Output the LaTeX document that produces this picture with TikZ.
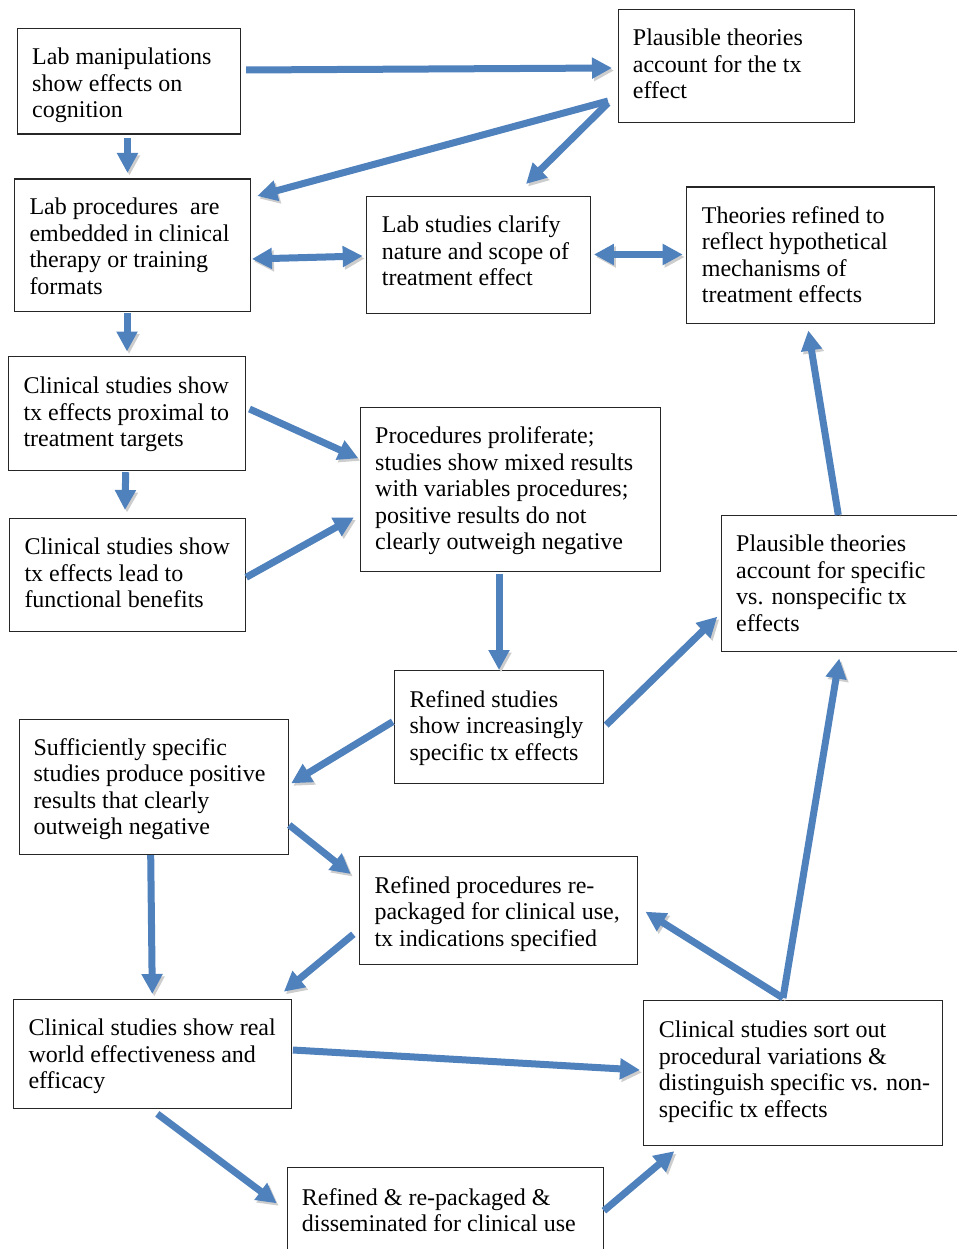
\documentclass[tikz,border=0pt]{standalone}
\usepackage{fontspec}
\setmainfont{Liberation Serif}
\usetikzlibrary{arrows.meta,calc}
\definecolor{arrowblue}{RGB}{79,129,189}
\definecolor{shadowgray}{RGB}{205,205,205}
\begin{document}
\begin{tikzpicture}[x=1pt,y=-1pt,
  box/.style={draw=black!85,line width=1.2pt,rectangle,inner sep=0pt,anchor=north west},
  txt/.style={anchor=north west,inner sep=0pt,align=left,font=\fontsize{24}{26.5}\selectfont},
  tip/.tip={Triangle[length=20pt 0 0,width=20pt 0 0]},
  conn/.style={line width=7pt,draw=arrowblue,-tip,
    preaction={draw=shadowgray,transform canvas={shift={(2pt,-2.5pt)}}}},
  dconn/.style={conn,tip-tip}]
\useasboundingbox (0,0) rectangle (957,1249);
\fill[white] (0,0) rectangle (957,1249);
% boxes
\node[box,minimum width=223pt,minimum height=105.5pt] (A) at (17,28) {};
\node[box,minimum width=236pt,minimum height=113pt] (B) at (617.5,9) {};
\node[box,minimum width=236pt,minimum height=132pt] (C) at (14,178.5) {};
\node[box,minimum width=223.5pt,minimum height=116.5pt] (D) at (366,196) {};
\node[box,minimum width=248pt,minimum height=136pt] (E) at (686,186.5) {};
\node[box,minimum width=236.5pt,minimum height=114pt] (F) at (8,356) {};
\node[box,minimum width=300pt,minimum height=164pt] (G) at (359.5,406.5) {};
\node[box,minimum width=236pt,minimum height=113.5pt] (H) at (9,517.5) {};
\node[box,minimum width=260pt,minimum height=136.5pt] (I) at (720.5,514.5) {};
\node[box,minimum width=209pt,minimum height=113.5pt] (J) at (394,669.5) {};
\node[box,minimum width=269.5pt,minimum height=135.5pt] (K) at (18.5,718.5) {};
\node[box,minimum width=278pt,minimum height=108.5pt] (L) at (358.5,855.5) {};
\node[box,minimum width=278pt,minimum height=109pt] (M) at (12.5,999) {};
\node[box,minimum width=299pt,minimum height=145.5pt] (N) at (643,999.5) {};
\node[box,minimum width=316pt,minimum height=100pt] (O) at (286.5,1167) {};
% texts
\node[txt] (At) at (32,48) {Lab manipulations\\show effects on\\cognition};
\node[txt] (Bt) at (632.7,29) {Plausible theories\\account for the tx\\effect};
\node[txt] (Ct) at (29.3,198) {Lab procedures\ \ are\\embedded in clinical\\therapy or training\\formats};
\node[txt] (Dt) at (381.7,215.7) {Lab studies clarify\\nature and scope of\\treatment effect};
\node[txt] (Et) at (701.7,206.3) {Theories refined to\\reflect hypothetical\\mechanisms of\\treatment effects};
\node[txt] (Ft) at (23.3,376.7) {Clinical studies show\\tx effects proximal to\\treatment targets};
\node[txt] (Gt) at (375,426.7) {Procedures proliferate;\\studies show mixed results\\with variables procedures;\\positive results do not\\clearly outweigh negative};
\node[txt] (Ht) at (24.3,538) {Clinical studies show\\tx effects lead to\\functional benefits};
\node[txt] (It) at (736,535) {Plausible theories\\account for specific\\vs. nonspecific tx\\effects};
\node[txt] (Jt) at (409.3,690) {Refined studies\\show increasingly\\specific tx effects};
\node[txt] (Kt) at (33.3,738.3) {Sufficiently specific\\studies produce positive\\results that clearly\\outweigh negative};
\node[txt] (Lt) at (374.3,876.3) {Refined procedures re-\\packaged for clinical use,\\tx indications specified};
\node[txt] (Mt) at (28.3,1019) {Clinical studies show real\\world effectiveness and\\efficacy};
\node[txt] (Nt) at (658.7,1020.7) {Clinical studies sort out\\procedural variations \&\\distinguish specific vs. non-\\specific tx effects};
\node[txt] (Ot) at (301.7,1188) {Refined \& re-packaged \&\\disseminated for clinical use};
% connectors
\draw[conn] ($(A.north east)+(5,42)$) -- ($(B.north west)+(-5.5,59)$);
\draw[conn] ($(B.north west)+(-9.5,92)$) -- ($(C.north east)+(6,17.5)$);
\draw[conn] ($(B.north west)+(-9.5,94)$) -- ($(D.north west)+(160,-12)$);
\draw[conn] ($(A.south west)+(110.5,3.5)$) -- ($(C.north west)+(113.5,-5.5)$);
\draw[dconn] ($(C.north east)+(0.7,80.5)$) -- ($(D.north west)+(-3.3,60)$);
\draw[dconn] ($(D.north east)+(3.2,58.5)$) -- ($(E.north west)+(-3.3,68)$);
\draw[conn] ($(C.south west)+(113,1.5)$) -- ($(F.north west)+(119,-4.5)$);
\draw[conn] ($(F.north east)+(3.8,53)$) -- ($(G.north west)+(-1.2,51.8)$);
\draw[conn] ($(F.south west)+(117.7,1)$) -- ($(H.north west)+(116,-7.5)$);
\draw[conn] ($(H.north east)+(0,59.8)$) -- ($(G.north west)+(-5.5,110.8)$);
\draw[conn] ($(G.south west)+(139.5,1.8)$) -- ($(J.north west)+(105,0.5)$);
\draw[conn] ($(J.north west)+(-1.3,52.2)$) -- ($(K.north east)+(2,64.8)$);
\draw[conn] ($(J.north east)+(2,55.5)$) -- ($(I.north west)+(-3.2,102.2)$);
\draw[conn] ($(I.north west)+(117.8,0.5)$) -- ($(E.south west)+(122.3,6.8)$);
\draw[conn] ($(K.north east)+(0,106.5)$) -- ($(L.north west)+(-7.8,18.5)$);
\draw[conn] ($(K.south west)+(132.2,0)$) -- ($(M.north west)+(139.8,-5)$);
\draw[conn] ($(L.north west)+(-5.2,78.8)$) -- ($(M.north east)+(-7.8,-7.3)$);
\draw[conn] ($(N.north west)+(140,-1.5)$) -- ($(L.north east)+(7.8,56.2)$);
\draw[conn] ($(N.north west)+(140,-1.5)$) -- ($(I.south west)+(118.8,6.3)$);
\draw[conn] ($(M.north east)+(1.2,51)$) -- ($(N.north west)+(-3,70.5)$);
\draw[conn] ($(M.south west)+(144.8,4.7)$) -- ($(O.north west)+(-9.8,36.3)$);
\draw[conn] ($(O.north east)+(0.2,43.7)$) -- ($(N.south west)+(31.3,5)$);
\end{tikzpicture}
\end{document}
